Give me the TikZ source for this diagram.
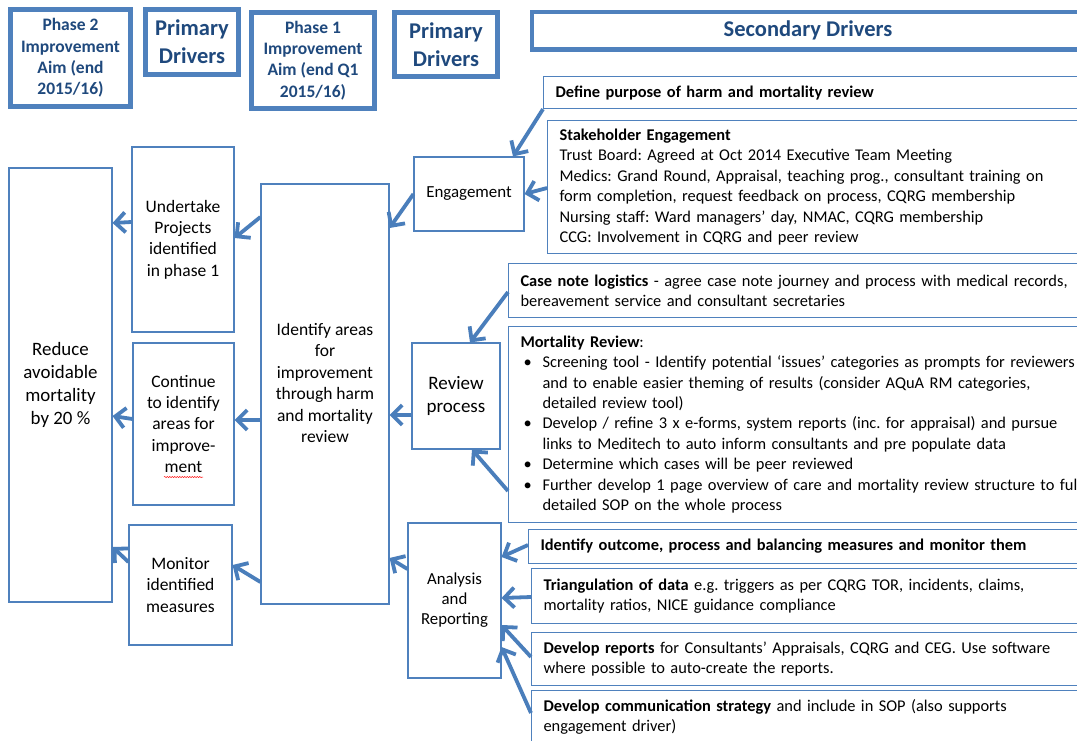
\documentclass[tikz,border=0pt]{standalone}
\usepackage{fontspec}
\setmainfont{Carlito}
\usetikzlibrary{arrows.meta,decorations.pathmorphing}
\definecolor{boxblue}{RGB}{79,129,189}
\definecolor{arrowblue}{RGB}{74,126,187}
\definecolor{headtext}{RGB}{31,73,125}
\begin{document}
\frenchspacing
\begin{tikzpicture}[x=1pt,y=-1pt,
  head/.style={draw=boxblue, line width=5pt, fill=white, align=center, text=headtext, inner sep=0pt},
  aimfont/.style={font=\bfseries\fontsize{17.5}{21.3}\selectfont},
  drvfont/.style={font=\bfseries\fontsize{22.5}{28}\selectfont},
  plain/.style={draw=boxblue, line width=1.1pt, fill=white, align=center, inner sep=0pt},
  pfont/.style={font=\fontsize{17.5}{21.4}\selectfont},
  sec/.style={draw=boxblue, line width=1.1pt, fill=white, align=left, anchor=north west,
    text width=800, inner xsep=12pt, inner ysep=0pt, font=\fontsize{16.4}{20.4}\selectfont},
  link/.style={draw=arrowblue, line width=3.8pt, -{Straight Barb[length=10pt,width=20pt]}},
]
\useasboundingbox (0,0) rectangle (1077,740);
\fill[white] (0,0) rectangle (1077,740);
\clip (0,0) rectangle (1077,740);

% column headings
\node[head, aimfont, minimum width=120, minimum height=97] (ph2) at (70.5,58) {Phase 2\\Improvement\\Aim (end\\2015/16)};
\node[head, drvfont, minimum width=93, minimum height=65] (pd1) at (192,42) {Primary\\Drivers};
\node[head, aimfont, minimum width=123, minimum height=96] (ph1) at (313,60.5) {Phase 1\\Improvement\\Aim (end Q1\\2015/16)};
\node[head, drvfont, minimum width=103, minimum height=64] (pd2) at (446,44.5) {Primary\\Drivers};
\node[head, drvfont, line width=4.5pt, minimum width=552, minimum height=37.5] (secd) at (808,30.75) {Secondary Drivers};

% aim and phase 2 drivers
\node[plain, font=\fontsize{18.9}{23}\selectfont, minimum width=103, minimum height=434] (red) at (60.5,385) {Reduce\\avoidable\\mortality\\by 20 \%};
\node[plain, pfont, minimum width=102, minimum height=185] (und) at (183,239.5) {Undertake\\Projects\\identified\\in phase 1};
\node[plain, pfont, minimum width=101, minimum height=162] (cont) at (183.5,424) {Continue\\to identify\\areas for\\improve-\\ment};
\node[plain, pfont, minimum width=103, minimum height=120] (mon) at (180.5,585) {Monitor\\identified\\measures};

% phase 1 aim
\node[plain, minimum width=128, minimum height=420] (ident) at (325,394) {};
\node[pfont, align=center, inner sep=0pt] (identtext) at (325,383) {Identify areas\\for\\improvement\\through harm\\and mortality\\review};

% phase 1 primary drivers
\node[plain, font=\fontsize{16.9}{20.6}\selectfont, minimum width=110, minimum height=74] (eng) at (469,194) {Engagement};
\node[plain, font=\fontsize{19}{23}\selectfont, minimum width=88, minimum height=106] (rev) at (456,396) {Review\\process};
\node[plain, font=\fontsize{16.8}{20}\selectfont, minimum width=93, minimum height=155] (ana) at (454.5,600.5) {Analysis\\and\\Reporting};

% secondary drivers
\node[sec, minimum height=32] (def) at (543,76) {\textbf{Define purpose of harm and mortality review}};
\node[sec, minimum height=133] (stake) at (547,120) {\textbf{Stakeholder Engagement}\\
Trust Board: Agreed at Oct 2014 Executive Team Meeting\\
Medics: Grand Round, Appraisal, teaching prog., consultant training on\\
form completion, request feedback on process, CQRG membership\\
Nursing staff: Ward managers’ day, NMAC, CQRG membership\\
CCG: Involvement in CQRG and peer review};
\node[sec, minimum height=54] (case) at (508,263) {\textbf{Case note logistics} - agree case note journey and process with medical records,\\
bereavement service and consultant secretaries};
\node[sec, minimum height=196] (mort) at (508,326) {\textbf{Mortality Review}:\\
\hspace*{3pt}\makebox[19pt][l]{•}Screening tool - Identify potential ‘issues’ categories as prompts for reviewers\\
\hspace*{22pt}and to enable easier theming of results (consider AQuA RM categories,\\
\hspace*{22pt}detailed review tool)\\
\hspace*{3pt}\makebox[19pt][l]{•}Develop / refine 3 x e-forms, system reports (inc. for appraisal) and pursue\\
\hspace*{22pt}links to Meditech to auto inform consultants and pre populate data\\
\hspace*{3pt}\makebox[19pt][l]{•}Determine which cases will be peer reviewed\\
\hspace*{3pt}\makebox[19pt][l]{•}Further develop 1 page overview of care and mortality review structure to full\\
\hspace*{22pt}detailed SOP on the whole process};
\node[sec, minimum height=34] (outc) at (528,529) {\textbf{Identify outcome, process and balancing measures and monitor them}};
\node[sec, minimum height=55] (tri) at (531,568) {\textbf{Triangulation of data} e.g. triggers as per CQRG TOR, incidents, claims,\\
mortality ratios, NICE guidance compliance};
\node[sec, minimum height=53] (rep) at (531,632) {\textbf{Develop reports} for Consultants’ Appraisals, CQRG and CEG. Use software\\
where possible to auto-create the reports.};
\node[sec, minimum height=53] (com) at (531,690) {\textbf{Develop communication strategy} and include in SOP (also supports\\
engagement driver)};

% spelling mark under the split word
\draw[red, line width=0.5pt, decorate, decoration={snake, amplitude=0.6pt, segment length=2.5pt}] (164,477) -- (203,477);

% secondary -> primary (phase 1)
\draw[link] (def.south west) -- (eng.north -| 513,0);
\draw[link] (stake.west |- 0,188) -- (eng.east);
\draw[link] (case.west |- 0,292) -- (rev.north -| 470,0);
\draw[link] (mort.west |- 0,491) -- (rev.south -| 472,0);
\draw[link] (outc.west |- 0,545) -- (ana.east |- 0,557);
\draw[link] (tri.west |- 0,597) -- (ana.east |- 0,598);
\draw[link] (rep.west |- 0,657) -- (ana.east |- 0,625);
\draw[link] (com.west |- 0,713) -- (ana.east |- 0,647);

% primary (phase 1) -> phase 1 aim
\draw[link] (eng.west) -- (ident.east |- 0,228);
\draw[link] (rev.west |- 0,415) -- (ident.east |- 0,415);
\draw[link] (ana.west |- 0,569) -- (ident.east |- 0,558);

% phase 1 aim -> phase 2 drivers
\draw[link] (ident.west |- 0,217) -- (und.east |- 0,238);
\draw[link] (ident.west |- 0,420) -- (cont.east |- 0,420);
\draw[link] (ident.west |- 0,582) -- (mon.east |- 0,565);

% phase 2 drivers -> aim
\draw[link] (und.west |- 0,222) -- (red.east |- 0,223);
\draw[link] (cont.west |- 0,419) -- (red.east |- 0,416);
\draw[link] (mon.west |- 0,562) -- (red.east |- 0,547);
\end{tikzpicture}
\end{document}
